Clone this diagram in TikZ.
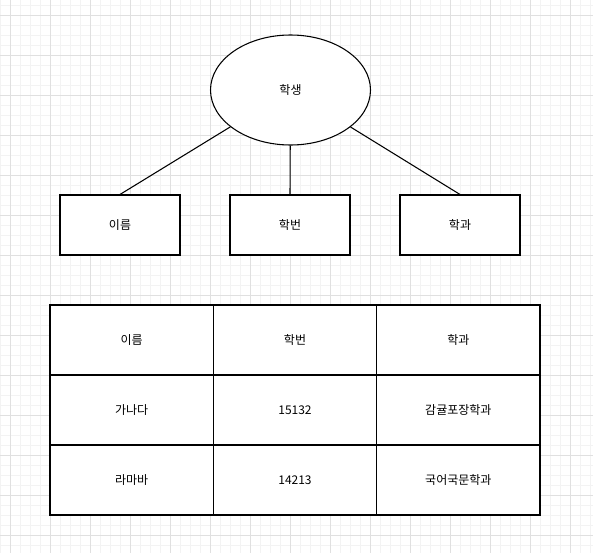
\documentclass[tikz,border=0pt]{standalone}
\usepackage{fontspec}
\setmainfont{Noto Sans CJK KR}
\usetikzlibrary{shapes.geometric}
\definecolor{gridminor}{HTML}{F3F3F3}
\definecolor{gridmajor}{HTML}{E0E0E0}
\begin{document}
\begin{tikzpicture}[x=0.75pt,y=-0.75pt,
  shapeline/.style={draw=black,line width=0.8pt,fill=white},
  attrbox/.style={shapeline,rectangle,minimum width=90pt,minimum height=45pt,inner sep=0pt,font=\fontsize{9pt}{11pt}\selectfont},
  cellbox/.style={shapeline,rectangle,minimum width=122.5pt,minimum height=52.5pt,inner sep=0pt,font=\fontsize{9pt}{11pt}\selectfont},
  conn/.style={draw=black,line width=0.8pt}]
\useasboundingbox (0,0) rectangle (593,553);
\fill[white] (0,0) rectangle (593,553);
% grid
\foreach \x in {0,10,...,590} \draw[gridminor,line width=0.75pt] (\x,0) -- (\x,553);
\foreach \y in {5,15,...,553} \draw[gridminor,line width=0.75pt] (0,\y) -- (593,\y);
\foreach \x in {10,50,...,590} \draw[gridmajor,line width=0.75pt] (\x,0) -- (\x,553);
\foreach \y in {15,55,...,553} \draw[gridmajor,line width=0.75pt] (0,\y) -- (593,\y);
% ER part
\node[shapeline,ellipse,minimum width=120pt,minimum height=82.5pt,inner sep=0pt,font=\fontsize{9pt}{11pt}\selectfont] (student) at (290.5,90) {학생};
\node[attrbox] (name) at (120,225) {이름};
\node[attrbox] (num) at (290,225) {학번};
\node[attrbox] (dept) at (460,225) {학과};
\draw[conn] (name.north) -- (student);
\draw[conn] (num.north) -- (student);
\draw[conn] (dept.north) -- (student);
% table
\node[cellbox] (h1) at (131.67,340) {이름};
\node[cellbox] (h2) at (295,340) {학번};
\node[cellbox] (h3) at (458.33,340) {학과};
\node[cellbox] (a1) at (131.67,410) {가나다};
\node[cellbox] (a2) at (295,410) {15132};
\node[cellbox] (a3) at (458.33,410) {감귤포장학과};
\node[cellbox] (b1) at (131.67,480) {라마바};
\node[cellbox] (b2) at (295,480) {14213};
\node[cellbox] (b3) at (458.33,480) {국어국문학과};
\end{tikzpicture}
\end{document}
